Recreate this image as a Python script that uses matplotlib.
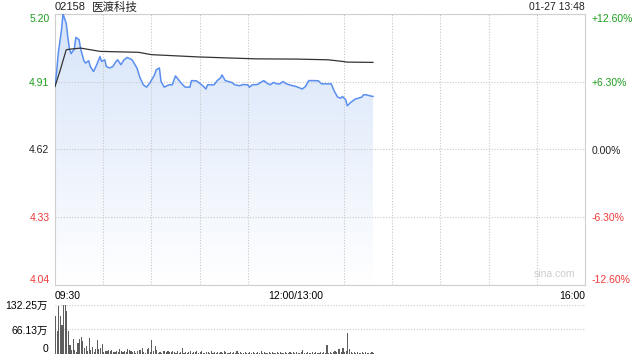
import numpy as np
import matplotlib
matplotlib.use('Agg')
import matplotlib.pyplot as plt
from matplotlib.colors import LinearSegmentedColormap
from matplotlib.patches import PathPatch

plt.rcParams['font.family'] = ['Liberation Sans', 'Noto Sans CJK SC', 'DejaVu Sans']
plt.rcParams['font.size'] = 7.5

# trading minutes since 09:30 (12:00/13:00 = 150, 16:00 = 330)
price_min = [0, 1, 2, 4, 5, 7, 8, 9, 10, 12, 13, 15, 16, 18, 19, 21, 22, 24, 26, 28,
             29, 31, 32, 34, 36, 38, 39, 41, 43, 45, 48, 51, 53, 55, 57, 59, 62, 63, 65, 66,
             68, 71, 73, 75, 77, 79, 81, 84, 85, 88, 90, 92, 94, 95, 99, 101, 103, 104, 106, 108,
             110, 112, 115, 117, 120, 121, 123, 126, 128, 130, 132, 134, 136, 138, 140, 142, 144, 146, 148, 150,
             154, 156, 158, 161, 164, 166, 169, 172, 174, 176, 178, 179, 181, 182, 184, 187, 189, 191, 192, 194,
             196, 198]
price_val = [4.89, 4.95, 5.03, 5.13, 5.20, 5.16, 5.10, 5.05, 5.03, 5.05, 5.10, 5.09, 5.05, 5.00, 4.99, 5.00, 4.975, 4.954, 4.983, 5.018,
             4.997, 5.004, 4.975, 4.969, 4.975, 4.997, 5.004, 4.983, 5.004, 5.014, 5.004, 4.969, 4.926, 4.897, 4.887, 4.904, 4.94, 4.961, 4.969, 4.911,
             4.887, 4.897, 4.897, 4.935, 4.918, 4.901, 4.887, 4.887, 4.915, 4.914, 4.904, 4.893, 4.879, 4.897, 4.897, 4.915, 4.926, 4.939, 4.915, 4.911,
             4.907, 4.897, 4.893, 4.898, 4.897, 4.887, 4.897, 4.898, 4.907, 4.915, 4.904, 4.897, 4.907, 4.901, 4.901, 4.911, 4.901, 4.897, 4.893, 4.89,
             4.879, 4.89, 4.915, 4.915, 4.914, 4.901, 4.901, 4.901, 4.868, 4.844, 4.84, 4.847, 4.833, 4.807, 4.821, 4.836, 4.84, 4.844, 4.854, 4.854,
             4.85, 4.847]

avg_min = [0, 3, 7, 10, 16, 28, 52, 60, 90, 125, 150, 170, 179, 182, 198]
avg_val = [4.89, 4.954, 5.047, 5.05, 5.054, 5.04, 5.036, 5.026, 5.016, 5.008, 5.007, 5.004, 4.997, 4.994, 4.993]

# volume per minute, in 万
volume = [102, 63, 130, 102, 77, 132, 135, 117, 61, 25, 11, 41, 11, 5, 31, 41, 46, 34, 17, 22, 9, 43, 11, 18, 6, 14, 37, 14, 15, 28,
          6, 8, 9, 11, 9, 12, 6, 6, 8, 6, 14, 9, 5, 8, 5, 14, 11, 8, 5, 8, 4, 8, 12, 10, 17, 5, 4, 14, 17, 5,
          37, 8, 22, 11, 4, 6, 4, 8, 7, 5, 8, 5, 5, 8, 5, 4, 7, 4, 5, 15, 4, 6, 3, 5, 8, 4, 6, 5, 7, 4,
          5, 7, 4, 3, 6, 5, 4, 7, 3, 5, 4, 6, 3, 5, 4, 8, 5, 4, 3, 6, 4, 5, 3, 7, 4, 5, 3, 4, 6, 3,
          4, 5, 3, 6, 4, 3, 5, 4, 7, 3, 5, 4, 3, 6, 4, 5, 3, 4, 5, 3, 6, 4, 3, 5, 4, 3, 6, 4, 5, 4,
          5, 3, 4, 6, 11, 4, 3, 5, 4, 3, 6, 4, 5, 3, 4, 5, 3, 6, 4, 25, 4, 5, 3, 6, 8, 5, 14, 14, 6, 16,
          5, 7, 58, 14, 5, 4, 6, 3, 5, 4, 3, 5, 4, 6, 3, 4, 3, 5, 4]

prev_close = 4.62
y_ticks = [4.04, 4.33, 4.62, 4.91, 5.20]
pct_labels = ['-12.60%', '-6.30%', '0.00%', '+6.30%', '+12.60%']
vol_ticks = [0, 66.13, 132.25]
vol_labels = ['0', '66.13万', '132.25万']

green = '#1e9e1e'
red = '#ee3b3b'
grid_c = '#c8c8c8'
spine_c = '#cfcfcf'

fig = plt.figure(figsize=(6.4, 3.6), dpi=100)
ax = fig.add_axes([55/640, 1-285/360, 530/640, 271/360])
axv = fig.add_axes([55/640, 1-354/360, 530/640, 49/360])

t = np.array(price_min)
p = np.array(price_val)

# gradient fill under the price line
fill = ax.fill_between(t, p, y_ticks[0], color='none', lw=0)
clip = PathPatch(fill.get_paths()[0], transform=ax.transData, facecolor='none', edgecolor='none')
ax.add_patch(clip)
cmap = LinearSegmentedColormap.from_list('fade', ['#ffffff', '#d6e4f9'])
grad = np.linspace(1, 0, 256).reshape(-1, 1)
im = ax.imshow(grad, extent=[t[0], t[-1], y_ticks[0], p.max()], origin='upper',
               aspect='auto', cmap=cmap, zorder=1)
im.set_clip_path(clip)

ax.plot(price_min, price_val, color='#5a8ff0', lw=1.1, zorder=3)
ax.plot(avg_min, avg_val, color='#333333', lw=0.9, zorder=3)

ax.set_xlim(0, 330)
ax.set_ylim(y_ticks[0], y_ticks[-1])
ax.set_yticks(y_ticks)
ax.set_yticklabels(['%.2f' % v for v in y_ticks])
ax.set_xticks([0, 150, 330])
ax.set_xticklabels(['09:30', '12:00/13:00', '16:00'])
ax.set_xticks(range(0, 331, 30), minor=True)
ax.tick_params(which='both', length=0)
ax.tick_params(axis='y', pad=4)
ax.tick_params(axis='x', pad=4)
xl = ax.get_xticklabels()
xl[0].set_ha('left')
xl[2].set_ha('right')
ax.grid(True, which='minor', axis='x', color=grid_c, ls=(0, (1, 1.5)), lw=0.8)
ax.grid(True, which='major', axis='y', color=grid_c, ls=(0, (1, 1.5)), lw=0.8)
for s in ax.spines.values():
    s.set_color(spine_c)

ycols = [red, red, '#222222', green, green]
for lab, c in zip(ax.get_yticklabels(), ycols):
    lab.set_color(c)
ax.get_yticklabels()[0].set_va('bottom')
ax.get_yticklabels()[-1].set_va('top')

ax2 = ax.twinx()
ax2.set_ylim(-12.6, 12.6)
ax2.set_yticks([-12.6, -6.3, 0, 6.3, 12.6])
ax2.set_yticklabels(pct_labels)
ax2.tick_params(length=0, pad=5)
for lab, c in zip(ax2.get_yticklabels(), ycols):
    lab.set_color(c)
ax2.get_yticklabels()[0].set_va('bottom')
ax2.get_yticklabels()[-1].set_va('top')
for s in ax2.spines.values():
    s.set_visible(False)

# header: code, name, timestamp
fig.text(55/640, 1-10.5/360, '02158', ha='left', va='baseline', fontsize=8, color='#222222')
fig.text(92/640, 1-10.5/360, '医渡科技', ha='left', va='baseline', fontsize=8.3, color='#222222')
fig.text(585/640, 1-10.5/360, '01-27 13:48', ha='right', va='baseline', fontsize=7.5, color='#222222')
ax.text(0.982, 0.022, 'sina.com', transform=ax.transAxes, ha='right', va='bottom',
        fontsize=7.5, color='#cccccc')

# volume panel
axv.bar(range(len(volume)), volume, width=0.7, color='#5e5e5e', align='edge')
axv.set_xlim(0, 330)
axv.set_ylim(0, 132.25)
axv.set_yticks(vol_ticks)
axv.set_yticklabels(vol_labels)
axv.set_xticks([])
axv.tick_params(length=0, pad=5)
axv.get_yticklabels()[0].set_va('bottom')
for v in vol_ticks[1:]:
    axv.axhline(v, color=grid_c, ls=(0, (1, 1.5)), lw=0.8, zorder=0)
for s in axv.spines.values():
    s.set_visible(False)

fig.savefig('out.png', dpi=100)
